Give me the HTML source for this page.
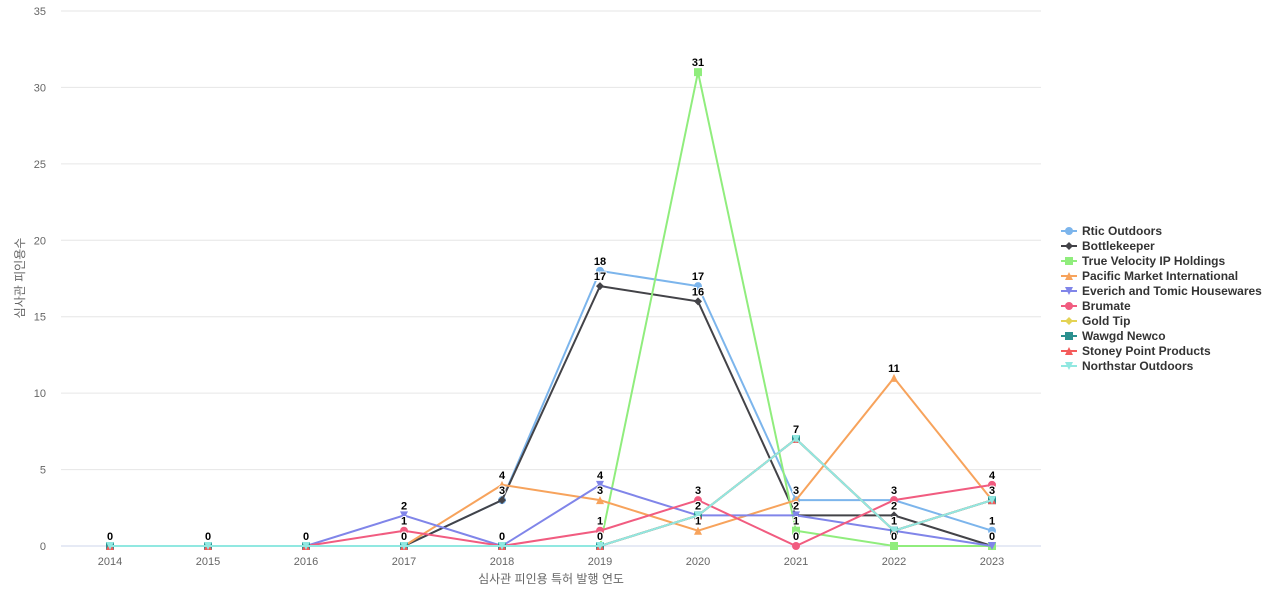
<!DOCTYPE html>
<html><head><meta charset="utf-8"><style>
body{margin:0;background:#fff;font-family:"Liberation Sans","Noto Sans CJK KR",sans-serif}
</style></head><body>
<svg id="c" width="1280" height="600" xmlns="http://www.w3.org/2000/svg"></svg>
<script>
const years=[2014,2015,2016,2017,2018,2019,2020,2021,2022,2023];
const yTicks=[0,5,10,15,20,25,30,35];
const seriesNames=["Rtic Outdoors","Bottlekeeper","True Velocity IP Holdings","Pacific Market International","Everich and Tomic Housewares","Brumate","Gold Tip","Wawgd Newco","Stoney Point Products","Northstar Outdoors"];
const rtic=[0,0,0,0,3,18,17,3,3,1];
const bottlekeeper=[0,0,0,0,3,17,16,2,2,0];
const trueVelocity=[0,0,0,0,0,0,31,1,0,0];
const pacific=[0,0,0,0,4,3,1,3,11,3];
const everich=[0,0,0,2,0,4,2,2,1,0];
const brumate=[0,0,0,1,0,1,3,0,3,4];
const goldTip=[0,0,0,0,0,0,2,7,1,3];
const wawgd=[0,0,0,0,0,0,2,7,1,3];
const stoney=[0,0,0,0,0,0,2,7,1,3];
const northstar=[0,0,0,0,0,0,2,7,1,3];
const allSeries=[rtic,bottlekeeper,trueVelocity,pacific,everich,brumate,goldTip,wawgd,stoney,northstar];
const colors=["#7cb5ec","#434348","#90ed7d","#f7a35c","#8085e9","#f15c80","#e4d354","#2b908f","#f45b5b","#91e8e1"];
const markers=["circle","diamond","square","triangle","tdown","circle","diamond","square","triangle","tdown"];
const NS="http://www.w3.org/2000/svg";
const svg=document.getElementById('c');
const X=i=>110+i*98, Y=v=>546-v*535/35;
function mk(t,a,txt){const e=document.createElementNS(NS,t);for(const k in a)e.setAttribute(k,a[k]);if(txt!==undefined)e.textContent=txt;svg.appendChild(e);return e;}
yTicks.forEach(t=>{
 const l=mk('line',{x1:61,x2:1041,y1:Y(t),y2:Y(t),stroke:t===0?'#ccd6eb':'#e6e6e6'});
 
 
 const tx=mk('text',{x:46,y:Y(t)+4,'text-anchor':'end','font-size':11,fill:'#666'},t);
 
 
});
years.forEach((y,i)=>{
 const tx=mk('text',{x:X(i),y:565,'text-anchor':'middle','font-size':11,fill:'#666'},y);
 
 
});
const xt=mk('text',{x:551,y:583,'text-anchor':'middle','font-size':12,fill:'#666'},'심사관 피인용 특허 발행 연도');


const yt=mk('text',{x:24,y:278,'text-anchor':'middle','font-size':12,fill:'#666',transform:'rotate(-90 24 278)'},'심사관 피인용수');


function marker(type,x,y,c,s){
 let e;
 if(type==='circle')e=mk('circle',{cx:x,cy:y,r:4*s,fill:c});
 else if(type==='square')e=mk('rect',{x:x-4*s,y:y-4*s,width:8*s,height:8*s,fill:c});
 else if(type==='diamond')e=mk('path',{d:`M${x} ${y-4*s}L${x+4*s} ${y}L${x} ${y+4*s}L${x-4*s} ${y}Z`,fill:c});
 else if(type==='triangle')e=mk('path',{d:`M${x} ${y-4*s}L${x+4*s} ${y+4*s}L${x-4*s} ${y+4*s}Z`,fill:c});
 else e=mk('path',{d:`M${x-4*s} ${y-4*s}L${x+4*s} ${y-4*s}L${x} ${y+4*s}Z`,fill:c});
 return e;
}
allSeries.forEach((d,si)=>{
 const p=mk('polyline',{points:d.map((v,i)=>X(i)+','+Y(v)).join(' '),fill:'none',stroke:colors[si],'stroke-width':2});
 
 
 d.forEach((v,i)=>{
  const m=marker(markers[si],X(i),Y(v),colors[si],1);
  
  
 });
});
allSeries.forEach((d,si)=>{
 d.forEach((v,i)=>{
  const t=mk('text',{x:X(i),y:Y(v)-6,'text-anchor':'middle','font-size':11,'font-weight':'bold',fill:'#000',stroke:'#fff','stroke-width':2,'paint-order':'stroke'},v);
  
  
 });
});
seriesNames.forEach((n,si)=>{
 const y=231+si*15;
 const l=mk('line',{x1:1061,x2:1077,y1:y,y2:y,stroke:colors[si],'stroke-width':2});
 
 
 const m=marker(markers[si],1069,y,colors[si],1);
 
 
 const t=mk('text',{x:1082,y:y+4,'font-size':12,'font-weight':'bold',fill:'#333'},n);
 
 
});
</script>
</body></html>
